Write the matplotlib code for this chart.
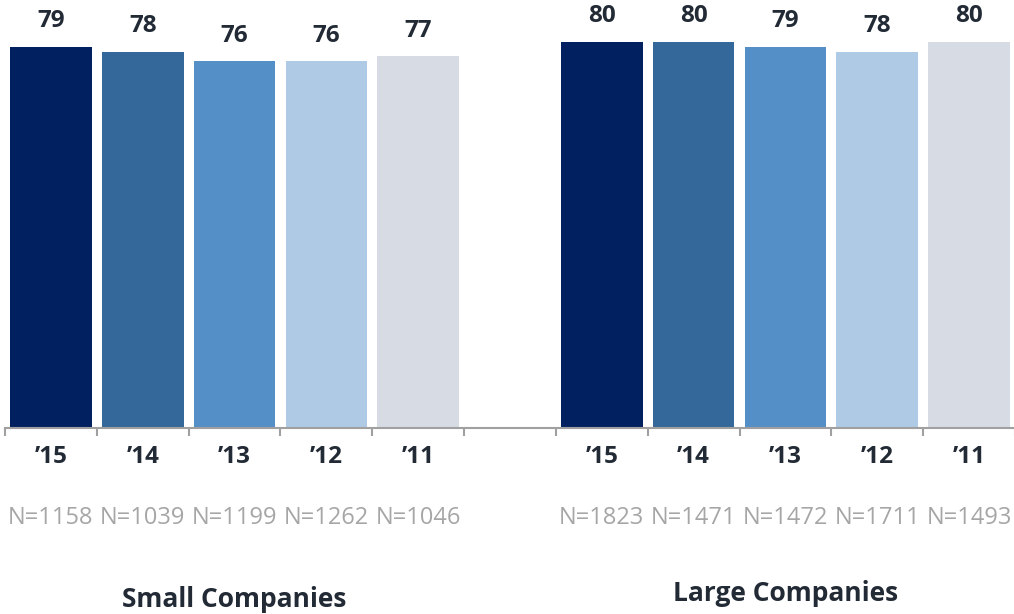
import matplotlib
matplotlib.use("Agg")
import matplotlib.pyplot as plt
import numpy as np

plt.rcParams['font.family'] = ['Open Sans', 'DejaVu Sans']

years = ["\u201915", "\u201914", "\u201913", "\u201912", "\u201911"]
small_values = [79, 78, 76, 76, 77]
large_values = [80, 80, 79, 78, 80]
small_n = ["N=1158", "N=1039", "N=1199", "N=1262", "N=1046"]
large_n = ["N=1823", "N=1471", "N=1472", "N=1711", "N=1493"]
groups = ["Small Companies", "Large Companies"]
colors = ["#002060", "#35689A", "#558FC8", "#AFCAE4", "#D7DCE4"]

fig = plt.figure(figsize=(10.14, 6.14), dpi=100)
ax = fig.add_axes([5/1014, (614-428)/614, 1010/1014, 428/614])

small_pos = np.arange(5)
large_pos = np.arange(6, 11)
ax.bar(small_pos, small_values, width=0.89, color=colors)
ax.bar(large_pos, large_values, width=0.89, color=colors)

ax.set_xlim(-0.5, 10.5)
ax.set_ylim(0, 88.7)

text_color = "#222A35"
for pos, vals in ((small_pos, small_values), (large_pos, large_values)):
    for x, v in zip(pos, vals):
        ax.annotate(str(v), (x, v), xytext=(0, 18.5), textcoords="offset points",
                    ha="center", va="center", fontsize=17.5, fontweight="bold", color=text_color)

for sp in ["top", "right", "left"]:
    ax.spines[sp].set_visible(False)
ax.spines["bottom"].set_color("#A0A0A0")
ax.spines["bottom"].set_linewidth(1.5)
ax.set_yticks([])

ax.set_xticks(np.arange(-0.5, 10.6, 1.0))
ax.set_xticklabels([])
ax.tick_params(axis="x", direction="out", length=6, width=1.5, color="#A0A0A0")

all_pos = list(small_pos) + list(large_pos)
all_years = years + years
all_n = small_n + large_n
for x, y, n in zip(all_pos, all_years, all_n):
    ax.annotate(y, (x, 0), xytext=(0, -21), textcoords="offset points",
                ha="center", va="center", fontsize=17.5, fontweight="bold", color=text_color)
    ax.annotate(n, (x, 0), xytext=(0, -65), textcoords="offset points",
                ha="center", va="center", fontsize=17, color="#A6A6A6")

ax.annotate(groups[0], (2, 0), xytext=(0, -123.5), textcoords="offset points",
            ha="center", va="center", fontsize=19, fontweight="bold", color=text_color)
ax.annotate(groups[1], (8, 0), xytext=(0, -119.5), textcoords="offset points",
            ha="center", va="center", fontsize=19, fontweight="bold", color=text_color)

fig.savefig("out.png", dpi=100)
